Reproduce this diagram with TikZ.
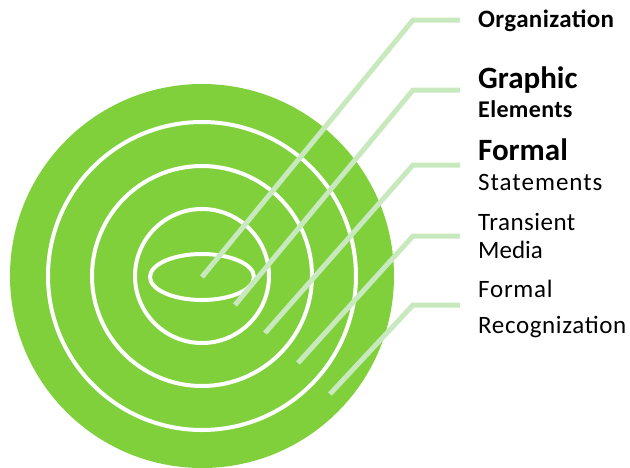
\documentclass[tikz,border=0pt]{standalone}
\usepackage{fontspec}
\setmainfont{Carlito}
\definecolor{ringgreen}{RGB}{128,208,60}
\definecolor{leadgreen}{RGB}{200,232,190}

\begin{document}
\begin{tikzpicture}[x=1pt,y=-1pt,
    ring/.style={draw=white,line width=4pt},
    leader/.style={draw=leadgreen,line width=5pt},
    lbl/.style={anchor=base west,inner sep=0pt,font=\fontsize{25}{30}\selectfont},
    lblbold/.style={lbl,font=\bfseries\fontsize{25}{30}\selectfont},
    lblbig/.style={lbl,font=\bfseries\fontsize{31}{36}\selectfont}]
  \useasboundingbox (0,0) rectangle (630,467);
  % target
  \fill[ringgreen] (202,276) circle [radius=192pt];
  \draw[ring] (202,276) circle [radius=154pt];
  \draw[ring] (202,276) circle [radius=110pt];
  \draw[ring] (202,276) circle [radius=67pt];
  \draw[ring] (202,277) ellipse [x radius=52pt,y radius=23pt];
  % leader lines
  \coordinate (c1) at (202,277);
  \coordinate (k1) at (413,20);
  \coordinate (e1) at (460,20);
  \coordinate (c2) at (235,305);
  \coordinate (k2) at (413,90);
  \coordinate (e2) at (460,90);
  \coordinate (c3) at (265,333);
  \coordinate (k3) at (413,165);
  \coordinate (e3) at (460,165);
  \coordinate (c4) at (298,363);
  \coordinate (k4) at (413,236);
  \coordinate (e4) at (460,236);
  \coordinate (c5) at (330,394);
  \coordinate (k5) at (413,305);
  \coordinate (e5) at (460,305);
  \draw[leader] (c1) -- (k1) -- (e1);
  \draw[leader] (c2) -- (k2) -- (e2);
  \draw[leader] (c3) -- (k3) -- (e3);
  \draw[leader] (c4) -- (k4) -- (e4);
  \draw[leader] (c5) -- (k5) -- (e5);
  % labels
  \node[lblbold] (org) at (478,27) {\addfontfeature{LetterSpace=1.5}Organization};
  \node[lblbig] (graphic) at (478,88) {Graphic};
  \node[lblbold,font=\bfseries\fontsize{24}{28}\selectfont] (elements) at (478,117) {\addfontfeature{LetterSpace=1.5}Elements};
  \node[lblbig] (formal) at (478,160) {Formal};
  \node[lbl] (statements) at (478,190) {\addfontfeature{LetterSpace=4}Statements};
  \node[lbl] (transient) at (478,230) {\addfontfeature{LetterSpace=2}Transient};
  \node[lbl] (media) at (478,258) {Media};
  \node[lbl] (formal2) at (478,297) {\addfontfeature{LetterSpace=3}Formal};
  \node[lbl] (recog) at (478,333) {\addfontfeature{LetterSpace=2.5}Recognization};
\end{tikzpicture}
\end{document}
